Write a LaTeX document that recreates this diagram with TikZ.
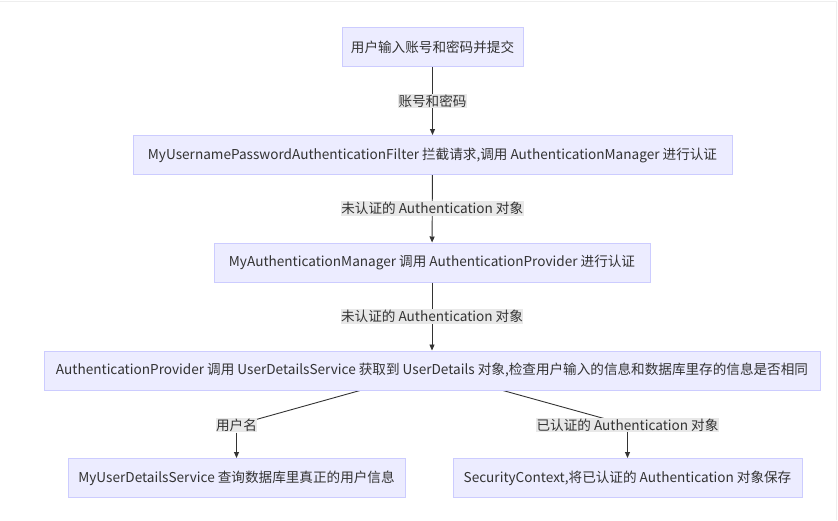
\documentclass[tikz,border=0pt]{standalone}
\usepackage{fontspec}
\setmainfont{Noto Sans CJK SC}
\usetikzlibrary{arrows.meta,backgrounds}
\definecolor{nodefill}{HTML}{ECECFF}
\definecolor{nodedraw}{HTML}{CCCCFF}
\definecolor{lblfill}{HTML}{E8E8E8}
\definecolor{txt}{HTML}{333333}
\definecolor{edgecol}{HTML}{333333}
\definecolor{framecol}{HTML}{EEEEEE}
\begin{document}
\begin{tikzpicture}[x=1pt,y=-1pt,
  box/.style={draw=nodedraw,fill=nodefill,line width=1pt,minimum height=39pt,inner sep=0pt,font=\fontsize{13.6}{16}\selectfont,text=txt},
  lbl/.style={fill=lblfill,inner xsep=0.5pt,inner ysep=1pt,font=\fontsize{13.6}{16}\selectfont,text=txt},
  conn/.style={draw=edgecol,line width=0.9pt},
  arr/.style={conn,-{Triangle[length=6pt,width=5pt]}}]
\useasboundingbox (0,0) rectangle (838,520);
\draw[framecol,line width=1pt] (0,1) -- (836,1) -- (836,520);
\node[box,minimum width=181pt] (n1) at (432.5,47) {用户输入账号和密码并提交};
\node[box,minimum width=599pt] (n2) at (432.5,155) {MyUsernamePasswordAuthenticationFilter 拦截请求,调用 AuthenticationManager 进行认证};
\node[box,minimum width=436pt] (n3) at (432,262.5) {MyAuthenticationManager 调用 AuthenticationProvider 进行认证};
\node[box,minimum width=776pt] (n4) at (432,370.5) {AuthenticationProvider 调用 UserDetailsService 获取到 UserDetails 对象,检查用户输入的信息和数据库里存的信息是否相同};
\node[box,minimum width=337pt] (n5) at (236.5,478) {MyUserDetailsService 查询数据库里真正的用户信息};
\node[box,minimum width=349pt] (n6) at (627.5,478) {SecurityContext,将已认证的 Authentication 对象保存};
\draw[arr] (n1) -- node[lbl] (l1) {账号和密码} (n2);
\draw[arr] (n2) -- node[lbl] (l2) {未认证的 Authentication 对象} (n3);
\draw[arr] (n3) -- node[lbl] (l3) {未认证的 Authentication 对象} (n4);
\node[lbl] (l5) at (236.5,425) {用户名};
\node[lbl] (l6) at (627.5,425) {已认证的 Authentication 对象};
\begin{pgfonlayer}{background}
\draw[conn] ([xshift=-72pt]n4.south) -- (l5.center);
\draw[conn] ([xshift=71pt]n4.south) -- (l6.center);
\end{pgfonlayer}
\draw[arr] (l5) -- (n5);
\draw[arr] (l6) -- (n6);
\end{tikzpicture}
\end{document}
